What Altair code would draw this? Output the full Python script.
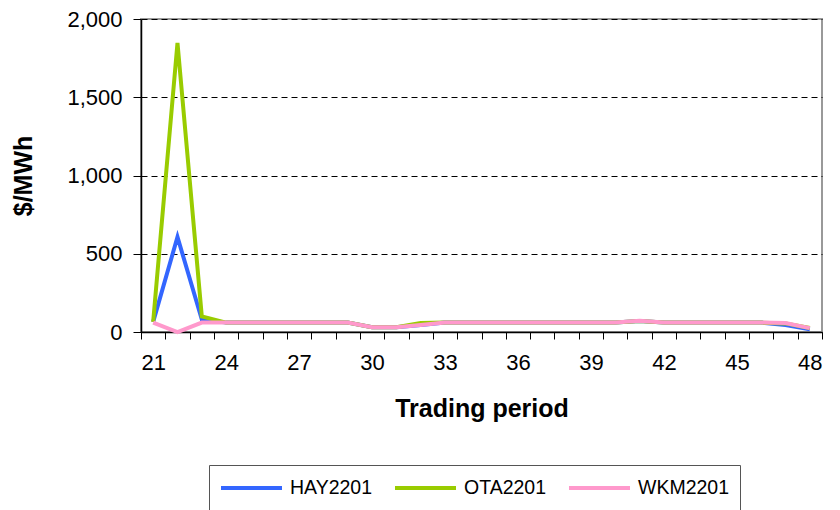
import altair as alt
import pandas as pd

periods = list(range(21, 49))
hay = [65, 607, 80, 60, 60, 60, 60, 60, 60, 30, 30, 45, 60, 60, 60, 60, 60, 60, 60, 60, 70, 60, 60, 60, 60, 60, 45, 18]
ota = [65, 1847, 100, 60, 60, 60, 60, 60, 60, 30, 30, 58, 60, 60, 60, 60, 60, 60, 60, 60, 70, 60, 60, 60, 60, 60, 55, 25]
wkm = [60, 0, 60, 60, 60, 60, 60, 60, 60, 30, 30, 45, 60, 60, 60, 60, 60, 60, 60, 60, 72, 60, 60, 60, 60, 60, 58, 25]
series_names = ["HAY2201", "OTA2201", "WKM2201"]
series_colors = ["#3366FF", "#99CC00", "#FF99CC"]

rows = []
for name, vals in zip(series_names, [hay, ota, wkm]):
    for p, v in zip(periods, vals):
        rows.append({"period": p, "price": v, "series": name, "order": series_names.index(name)})
df = pd.DataFrame(rows)

FONT = "Liberation Sans"

chart = alt.Chart(df).mark_line(strokeWidth=4).encode(
    x=alt.X("period:O", bandPosition=0.5,
            scale=alt.Scale(type="band", paddingInner=0, paddingOuter=0),
            axis=alt.Axis(title="Trading period", labelAngle=0, tickBand="extent",
                          labelExpr="(datum.value - 21) % 3 == 0 ? datum.label : ''",
                          labelFont=FONT, labelFontSize=22, labelColor="black",
                          labelPadding=13, tickSize=7, tickColor="black",
                          domainColor="black", domainWidth=1.5,
                          titleFont=FONT, titleFontSize=25, titleFontWeight="bold",
                          titlePadding=23, titleColor="black", grid=False)),
    y=alt.Y("price:Q", scale=alt.Scale(domain=[0, 2000], nice=False),
            axis=alt.Axis(title="$/MWh", values=[0, 500, 1000, 1500, 2000], format=",.0f",
                          labelFont=FONT, labelFontSize=22, labelColor="black",
                          labelPadding=11, tickSize=8, tickColor="black",
                          domainColor="black", domainWidth=1.5,
                          titleFont=FONT, titleFontSize=25, titleFontWeight="bold",
                          titlePadding=30, titleColor="black",
                          grid=True, gridColor="black", gridDash=[6, 4], gridWidth=1)),
    color=alt.Color("series:N", scale=alt.Scale(domain=series_names, range=series_colors),
                    legend=alt.Legend(title=None, orient="none", direction="horizontal",
                                      legendX=68, legendY=446, symbolType="stroke",
                                      symbolStrokeWidth=4, symbolSize=3721,
                                      clipHeight=26,
                                      labelFont=FONT, labelFontSize=19.5, labelColor="black",
                                      labelOffset=6,
                                      strokeColor="#555555", padding=10,
                                      columnPadding=20, labelLimit=200)),
    order=alt.Order("order:Q"),
).properties(
    width=681, height=313,
    autosize=alt.AutoSizeParams(type="none"),
    padding={"left": 133, "top": 11, "right": 10, "bottom": 200},
).configure_view(stroke="#999999", strokeWidth=2)

chart.save("out.html", embed_options={"renderer": "svg", "actions": False})
